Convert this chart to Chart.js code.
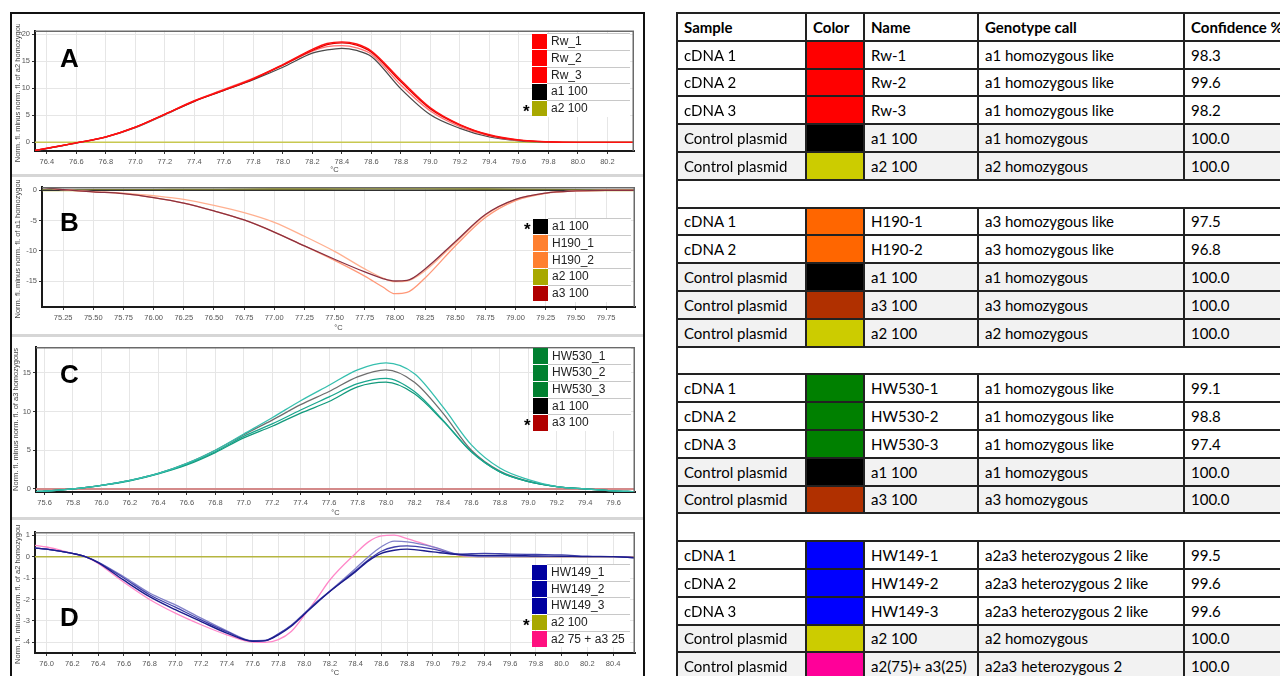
<!DOCTYPE html>
<html><head><meta charset="utf-8">
<script src="https://cdn.jsdelivr.net/npm/chart.js@4.4.1/dist/chart.umd.min.js"></script>
<style>
html,body{margin:0;padding:0;background:#fff;width:1280px;height:676px;overflow:hidden;position:relative;font-family:"Liberation Sans",Arial,sans-serif;}
#frame{position:absolute;left:10px;top:12px;width:635px;height:700px;border:2px solid #111;box-sizing:border-box;}
.sep{position:absolute;left:12px;width:631px;height:3px;background:#d6d6d6;}
canvas{position:absolute;left:12px;}
.letter{position:absolute;left:60px;font:bold 26px/26px "Liberation Sans",Arial,sans-serif;color:#000;}
.legend{position:absolute;width:98px;}
.legend .row{position:relative;height:16.7px;display:flex;}
.legend .sw{width:15px;height:15.7px;margin-top:0.5px;flex:none;}
.legend .lbl{flex:1;border-top:1px solid #c8c8c8;font-size:12px;line-height:15.7px;padding-left:4px;color:#222;white-space:nowrap;background:#fff;}
.legend .star{position:absolute;left:-9px;top:4px;font:bold 17px/16.7px "Liberation Sans",Arial,sans-serif;color:#000;}
#tbl{position:absolute;left:676px;top:12px;width:647px;border-collapse:collapse;table-layout:fixed;font-family:Lato,"Open Sans",sans-serif;font-size:15px;color:#000;}
#tbl td{border:2px solid #222;padding:0 0 0 6px;white-space:nowrap;overflow:hidden;}
#tbl tr{height:27.8px;}
#tbl tr.hdr td{font-weight:bold;}
#tbl tr.ctl td{background:#f2f2f2;}
#tbl td.sw{padding:0;}
</style></head>
<body>
<div id="frame"></div>
<div class="sep" style="top:174px"></div>
<div class="sep" style="top:334px"></div>
<div class="sep" style="top:517px"></div>

<canvas id="cA" width="630" height="150" style="top:24px"></canvas>
<canvas id="cB" width="630" height="152" style="top:180px"></canvas>
<canvas id="cC" width="630" height="177" style="top:340px"></canvas>
<canvas id="cD" width="630" height="152" style="top:525px"></canvas>

<div class="letter" style="top:44.6px">A</div>
<div class="letter" style="top:208.6px">B</div>
<div class="letter" style="top:360.6px">C</div>
<div class="letter" style="top:603.6px">D</div>

<div class="legend" id="lgA" style="left:532px;top:33.3px"></div>
<div class="legend" id="lgB" style="left:533px;top:218.3px"></div>
<div class="legend" id="lgC" style="left:533px;top:347.7px"></div>
<div class="legend" id="lgD" style="left:532px;top:564px"></div>

<table id="tbl">
<colgroup><col style="width:129px"><col style="width:58px"><col style="width:114px"><col style="width:206px"><col style="width:140px"></colgroup>
<tbody id="tbody"></tbody>
</table>

<script>
// ---------- Panel A ----------
const tempsA = [76.32, 76.4, 76.6, 76.8, 77.0, 77.2, 77.4, 77.6, 77.8, 78.0, 78.2, 78.3, 78.4, 78.5, 78.6, 78.8, 79.0, 79.2, 79.4, 79.6, 79.8, 80.0, 80.2, 80.38];
const rw1 = [-1.5, -1.1, -0.1, 1.0, 2.8, 5.2, 7.7, 9.7, 11.8, 14.4, 17.2, 18.3, 18.6, 18.2, 16.9, 11.5, 6.4, 3.3, 1.4, 0.45, 0.1, 0.0, 0.0, 0.0];
const rw2 = [-1.5, -1.1, -0.1, 1.0, 2.8, 5.2, 7.6, 9.6, 11.7, 14.3, 17.0, 18.1, 18.4, 18.0, 16.7, 11.2, 6.2, 3.2, 1.3, 0.4, 0.1, 0.0, 0.0, 0.0];
const rw3 = [-1.5, -1.1, -0.1, 1.0, 2.8, 5.2, 7.7, 9.8, 11.9, 14.3, 16.9, 17.7, 17.9, 17.5, 16.3, 10.6, 5.8, 2.9, 1.2, 0.35, 0.1, 0.0, 0.0, 0.0];
const a1A = [-1.6, -1.15, -0.15, 0.95, 2.7, 5.1, 7.6, 9.6, 11.6, 13.9, 16.5, 17.1, 17.4, 17.0, 15.9, 9.9, 5.1, 2.6, 1.0, 0.3, 0.05, 0.0, 0.0, 0.0];
const a2A = [0, 0, 0, 0, 0, 0, 0, 0, 0, 0, 0, 0, 0, 0, 0, 0, 0, 0, 0, 0, 0, 0, 0, 0];
const xTicksA = [76.4, 76.6, 76.8, 77.0, 77.2, 77.4, 77.6, 77.8, 78.0, 78.2, 78.4, 78.6, 78.8, 79.0, 79.2, 79.4, 79.6, 79.8, 80.0, 80.2];
const yTicksA = [0, 5, 10, 15, 20];
const legendNamesA = ['Rw_1', 'Rw_2', 'Rw_3', 'a1 100', 'a2 100'];
const legendColorsA = ['#ff0000', '#ff0000', '#ff0000', '#000000', '#a8a800'];

// ---------- Panel B ----------
const tempsB = [75.075, 75.25, 75.5, 75.75, 76.0, 76.25, 76.5, 76.75, 77.0, 77.25, 77.5, 77.75, 77.9, 78.0, 78.1, 78.25, 78.5, 78.75, 79.0, 79.25, 79.5, 79.75, 80.0];
const a3B = [0.5, 0.1, -0.25, -0.55, -1.2, -2.1, -3.4, -4.9, -6.9, -9.2, -11.4, -13.5, -14.6, -15.0, -14.9, -13.0, -8.5, -4.0, -1.5, -0.45, -0.1, 0.0, 0.0];
const h190a = [0.5, 0.1, -0.25, -0.55, -1.2, -2.1, -3.4, -4.9, -6.9, -9.2, -11.6, -14.2, -16.0, -17.1, -16.9, -14.5, -9.2, -4.5, -1.7, -0.5, -0.1, 0.0, 0.0];
const h190b = [0.6, 0.1, -0.2, -0.45, -0.9, -1.5, -2.5, -3.7, -5.3, -7.6, -10.1, -13.0, -14.5, -15.1, -15.0, -13.3, -8.7, -4.1, -1.5, -0.45, -0.1, 0.0, 0.0];
const a1B = [0, 0, 0, 0, 0, 0, 0, 0, 0, 0, 0, 0, 0, 0, 0, 0, 0, 0, 0, 0, 0, 0, 0];
const a2B = [0, 0, 0.05, 0.05, 0.05, 0.1, 0.1, 0.15, 0.2, 0.2, 0.25, 0.3, 0.3, 0.3, 0.3, 0.3, 0.25, 0.2, 0.15, 0.1, 0.05, 0.0, 0.0];
const xTicksB = [75.25, 75.5, 75.75, 76.0, 76.25, 76.5, 76.75, 77.0, 77.25, 77.5, 77.75, 78.0, 78.25, 78.5, 78.75, 79.0, 79.25, 79.5, 79.75];
const yTicksB = [0, -5, -10, -15];
const legendNamesB = ['a1 100', 'H190_1', 'H190_2', 'a2 100', 'a3 100'];
const legendColorsB = ['#000000', '#ff8030', '#ff8030', '#a8a800', '#b00000'];

// ---------- Panel C ----------
const tempsC = [75.54, 75.6, 75.8, 76.0, 76.2, 76.4, 76.6, 76.8, 77.0, 77.2, 77.4, 77.6, 77.8, 78.0, 78.2, 78.4, 78.6, 78.8, 79.0, 79.2, 79.4, 79.6, 79.75];
const hw530a = [-0.35, -0.3, 0.0, 0.45, 1.1, 2.0, 3.3, 5.0, 7.1, 9.2, 11.4, 13.4, 15.4, 16.3, 14.9, 10.6, 5.7, 2.7, 1.2, 0.3, 0.0, -0.25, -0.35];
const a1C = [-0.35, -0.3, 0.0, 0.45, 1.1, 2.0, 3.3, 5.0, 7.0, 8.9, 10.9, 12.6, 14.5, 15.4, 13.8, 9.8, 5.0, 2.3, 1.0, 0.3, 0.0, -0.25, -0.35];
const hw530b = [-0.35, -0.3, 0.0, 0.45, 1.1, 2.0, 3.2, 4.8, 6.8, 8.4, 10.2, 11.9, 13.6, 14.3, 12.6, 8.9, 4.8, 2.2, 0.95, 0.3, 0.0, -0.25, -0.35];
const hw530c = [-0.35, -0.3, 0.0, 0.45, 1.05, 1.95, 3.1, 4.7, 6.6, 8.1, 9.8, 11.3, 13.2, 13.8, 12.3, 8.8, 4.8, 2.2, 0.95, 0.3, 0.0, -0.25, -0.35];
const a3C = [0, 0, 0, 0, 0, 0, 0, 0, 0, 0, 0, 0, 0, 0, 0, 0, 0, 0, 0, 0, 0, 0, 0];
const xTicksC = [75.6, 75.8, 76.0, 76.2, 76.4, 76.6, 76.8, 77.0, 77.2, 77.4, 77.6, 77.8, 78.0, 78.2, 78.4, 78.6, 78.8, 79.0, 79.2, 79.4, 79.6];
const yTicksC = [0, 5, 10, 15];
const legendNamesC = ['HW530_1', 'HW530_2', 'HW530_3', 'a1 100', 'a3 100'];
const legendColorsC = ['#008030', '#008030', '#008030', '#000000', '#b00000'];

// ---------- Panel D ----------
const tempsD = [75.91, 76.0, 76.2, 76.3, 76.4, 76.6, 76.8, 77.0, 77.2, 77.4, 77.6, 77.7, 77.8, 77.9, 78.0, 78.1, 78.2, 78.4, 78.5, 78.6, 78.7, 78.8, 79.0, 79.2, 79.4, 79.6, 79.8, 80.0, 80.2, 80.4, 80.57];
const hw149a = [0.4, 0.35, 0.15, 0.0, -0.28, -1.1, -1.87, -2.48, -3.03, -3.57, -3.95, -3.92, -3.65, -3.25, -2.7, -2.15, -1.63, -0.7, -0.2, 0.15, 0.3, 0.35, 0.22, 0.1, 0.05, 0.05, 0.03, 0.02, 0.0, 0.0, -0.05];
const hw149b = [0.4, 0.35, 0.15, 0.0, -0.25, -0.94, -1.7, -2.25, -2.87, -3.46, -3.92, -3.9, -3.6, -3.2, -2.65, -2.1, -1.6, -0.55, 0.0, 0.46, 0.72, 0.69, 0.46, 0.1, 0.0, 0.0, 0.0, 0.0, 0.0, 0.0, -0.05];
const hw149c = [0.4, 0.35, 0.15, 0.0, -0.27, -1.0, -1.78, -2.36, -2.95, -3.5, -3.94, -3.92, -3.62, -3.22, -2.68, -2.12, -1.62, -0.65, -0.15, 0.25, 0.45, 0.5, 0.35, 0.12, 0.15, 0.12, 0.1, 0.08, 0.02, 0.0, -0.05];
const mix7525 = [0.53, 0.45, 0.15, 0.0, -0.32, -1.2, -2.0, -2.64, -3.18, -3.65, -3.99, -4.0, -3.88, -3.5, -2.75, -1.95, -1.09, 0.15, 0.69, 0.97, 1.0, 0.84, 0.46, 0.07, 0.0, 0.0, 0.0, 0.0, 0.0, 0.0, -0.03];
const a2D = [0, 0, 0, 0, 0, 0, 0, 0, 0, 0, 0, 0, 0, 0, 0, 0, 0, 0, 0, 0, 0, 0, 0, 0, 0, 0, 0, 0, 0, 0, 0];
const xTicksD = [76.0, 76.2, 76.4, 76.6, 76.8, 77.0, 77.2, 77.4, 77.6, 77.8, 78.0, 78.2, 78.4, 78.6, 78.8, 79.0, 79.2, 79.4, 79.6, 79.8, 80.0, 80.2, 80.4];
const yTicksD = [1, 0, -1, -2, -3, -4];
const legendNamesD = ['HW149_1', 'HW149_2', 'HW149_3', 'a2 100', 'a2 75 + a3 25'];
const legendColorsD = ['#0000a0', '#0000a0', '#0000a0', '#a8a800', '#ff1080'];

// ---------- Table ----------
const tblSample = ['cDNA 1','cDNA 2','cDNA 3','Control plasmid','Control plasmid', null,
  'cDNA 1','cDNA 2','Control plasmid','Control plasmid','Control plasmid', null,
  'cDNA 1','cDNA 2','cDNA 3','Control plasmid','Control plasmid', null,
  'cDNA 1','cDNA 2','cDNA 3','Control plasmid','Control plasmid'];
const tblColor = ['#ff0000','#ff0000','#ff0000','#000000','#cccc00', null,
  '#ff6600','#ff6600','#000000','#b03000','#cccc00', null,
  '#008000','#008000','#008000','#000000','#b03000', null,
  '#0000ff','#0000ff','#0000ff','#cccc00','#ff0099'];
const tblName = ['Rw-1','Rw-2','Rw-3','a1 100','a2 100', null,
  'H190-1','H190-2','a1 100','a3 100','a2 100', null,
  'HW530-1','HW530-2','HW530-3','a1 100','a3 100', null,
  'HW149-1','HW149-2','HW149-3','a2 100','a2(75)+ a3(25)'];
const tblCall = ['a1 homozygous like','a1 homozygous like','a1 homozygous like','a1 homozygous','a2 homozygous', null,
  'a3 homozygous like','a3 homozygous like','a1 homozygous','a3 homozygous','a2 homozygous', null,
  'a1 homozygous like','a1 homozygous like','a1 homozygous like','a1 homozygous','a3 homozygous', null,
  'a2a3 heterozygous 2 like','a2a3 heterozygous 2 like','a2a3 heterozygous 2 like','a2 homozygous','a2a3 heterozygous 2'];
const tblConf = ['98.3','99.6','98.2','100.0','100.0', null,
  '97.5','96.8','100.0','100.0','100.0', null,
  '99.1','98.8','97.4','100.0','100.0', null,
  '99.5','99.6','99.6','100.0','100.0'];

const FF = '"Liberation Sans", Arial, sans-serif';
const yTitleText = 'Norm. fl. minus norm. fl. of ';

function pts(t, ys) { return t.map((x, i) => ({x: x, y: ys[i]})); }

const framePlugin = {
  id: 'frame',
  afterDraw(chart) {
    const a = chart.chartArea, ctx = chart.ctx;
    ctx.save();
    ctx.strokeStyle = '#6a6a6a';
    ctx.lineWidth = 1.5;
    ctx.beginPath();
    ctx.moveTo(a.left, a.top + 0.75);
    ctx.lineTo(a.right - 0.75, a.top + 0.75);
    ctx.lineTo(a.right - 0.75, a.bottom);
    ctx.stroke();
    ctx.restore();
  }
};

function build(cfg) {
  const ds = cfg.series.map((s, i) => ({
    label: cfg.labels[i], data: pts(cfg.temps, s), borderColor: cfg.colors[i],
    borderWidth: cfg.widths[i], pointRadius: 0, fill: false, cubicInterpolationMode: 'monotone'
  }));
  return new Chart(document.getElementById(cfg.id), {
    type: 'line',
    data: {datasets: ds},
    options: {
      responsive: false, animation: false, events: [],
      layout: {padding: {top: cfg.padTop, right: cfg.padRight, left: 0, bottom: 0}},
      plugins: {legend: {display: false}, tooltip: {enabled: false}},
      scales: {
        x: {
          type: 'linear', min: cfg.xMin, max: cfg.xMax,
          afterBuildTicks: s => { s.ticks = cfg.xTicks.map(v => ({value: v})); },
          afterFit: s => { s.height = cfg.xH; },
          ticks: {autoSkip: false, maxRotation: 0, minRotation: 0, padding: 3, color: '#555',
                  font: {family: FF, size: 7.5}, callback: v => v.toFixed(cfg.xDec)},
          grid: {color: '#e6e6e6', lineWidth: 1, tickLength: 3, tickColor: '#333'},
          border: {color: '#1a1a1a', width: 2},
          title: {display: true, text: '°C', color: '#444', font: {family: FF, size: 7.5}, padding: {top: 0, bottom: 0}}
        },
        y: {
          type: 'linear', min: cfg.yMin, max: cfg.yMax,
          afterBuildTicks: s => { s.ticks = cfg.yTicks.map(v => ({value: v})); },
          afterFit: s => { s.width = cfg.yW; },
          ticks: {autoSkip: false, padding: 2, color: '#555', font: {family: FF, size: 7.5}, callback: v => String(v)},
          grid: {color: '#e6e6e6', lineWidth: 1, tickLength: 3, tickColor: '#333'},
          border: {color: '#1a1a1a', width: 2},
          title: {display: true, text: yTitleText + cfg.ref + ' homozygous', color: '#444', align: 'center',
                  font: {family: FF, size: 7.5}, padding: {top: cfg.yTitlePad, bottom: 0}}
        }
      }
    },
    plugins: [framePlugin]
  });
}

build({id: 'cA', temps: tempsA, series: [rw1, rw2, rw3, a1A, a2A], labels: legendNamesA,
  colors: ['#ff1010', '#e00000', '#ff7070', '#4a4a4a', '#c8c850'], widths: [1.4, 1.3, 1.3, 1.3, 1.5],
  xMin: 76.32, xMax: 80.38, yMin: -1.6, yMax: 20.7, xTicks: xTicksA, yTicks: yTicksA, xDec: 1,
  padTop: 6, padRight: 8, xH: 23, yW: 23, ref: 'a2', yTitlePad: 1});

build({id: 'cB', temps: tempsB, series: [a3B, h190a, h190b, a1B, a2B],
  labels: ['a3 100', 'H190_1', 'H190_2', 'a1 100', 'a2 100'],
  colors: ['#8a3040', '#ff9878', '#ffb090', '#303030', '#b8b830'], widths: [1.3, 1.3, 1.3, 1.5, 2],
  xMin: 75.075, xMax: 79.99, yMin: -19.3, yMax: 0.55, xTicks: xTicksB, yTicks: yTicksB, xDec: 2,
  padTop: 7, padRight: 7, xH: 25, yW: 30, ref: 'a1', yTitlePad: 1});

build({id: 'cC', temps: tempsC, series: [hw530a, hw530b, hw530c, a1C, a3C],
  labels: ['HW530_1', 'HW530_2', 'HW530_3', 'a1 100', 'a3 100'],
  colors: ['#35bfae', '#1aa68e', '#129a7c', '#6e6e6e', '#d48a8a'], widths: [1.3, 1.3, 1.3, 1.3, 2],
  xMin: 75.54, xMax: 79.75, yMin: -0.4, yMax: 18.35, xTicks: xTicksC, yTicks: yTicksC, xDec: 1,
  padTop: 7, padRight: 7, xH: 25, yW: 24, ref: 'a3', yTitlePad: -1});

build({id: 'cD', temps: tempsD, series: [hw149a, hw149c, hw149b, mix7525, a2D],
  labels: ['HW149_1', 'HW149_3', 'HW149_2', 'a2 75 + a3 25', 'a2 100'],
  colors: ['#1c1c8c', '#4040aa', '#8080c8', '#ff88c8', '#b5b540'], widths: [1.4, 1.3, 1.3, 1.3, 1.5],
  xMin: 75.91, xMax: 80.57, yMin: -4.5, yMax: 1.15, xTicks: xTicksD, yTicks: yTicksD, xDec: 1,
  padTop: 7, padRight: 7, xH: 24, yW: 23, ref: 'a2', yTitlePad: 1});

// HTML legends
function legend(id, names, colors, starIdx) {
  const el = document.getElementById(id);
  names.forEach((n, i) => {
    const row = document.createElement('div'); row.className = 'row';
    const sw = document.createElement('span'); sw.className = 'sw'; sw.style.background = colors[i];
    const lb = document.createElement('span'); lb.className = 'lbl'; lb.textContent = n;
    row.appendChild(sw); row.appendChild(lb);
    if (i === starIdx) { const st = document.createElement('span'); st.className = 'star'; st.textContent = '*'; row.appendChild(st); }
    el.appendChild(row);
  });
}
legend('lgA', legendNamesA, legendColorsA, 4);
legend('lgB', legendNamesB, legendColorsB, 0);
legend('lgC', legendNamesC, legendColorsC, 4);
legend('lgD', legendNamesD, legendColorsD, 3);

// Table
const tb = document.getElementById('tbody');
function addRow(cells, cls, color) {
  const tr = document.createElement('tr'); if (cls) tr.className = cls;
  cells.forEach((c, i) => {
    const td = document.createElement('td');
    if (i === 1 && color) { td.className = 'sw'; td.style.background = color; }
    else td.textContent = c;
    tr.appendChild(td);
  });
  tb.appendChild(tr);
}
addRow(['Sample', 'Color', 'Name', 'Genotype call', 'Confidence %'], 'hdr', null);
tblSample.forEach((s, i) => {
  if (s === null) {
    const tr = document.createElement('tr'); tr.className = 'blank';
    const td = document.createElement('td'); td.colSpan = 5; tr.appendChild(td); tb.appendChild(tr);
  } else {
    addRow([s, '', tblName[i], tblCall[i], tblConf[i]], s === 'Control plasmid' ? 'ctl' : '', tblColor[i]);
  }
});
</script>
</body></html>
